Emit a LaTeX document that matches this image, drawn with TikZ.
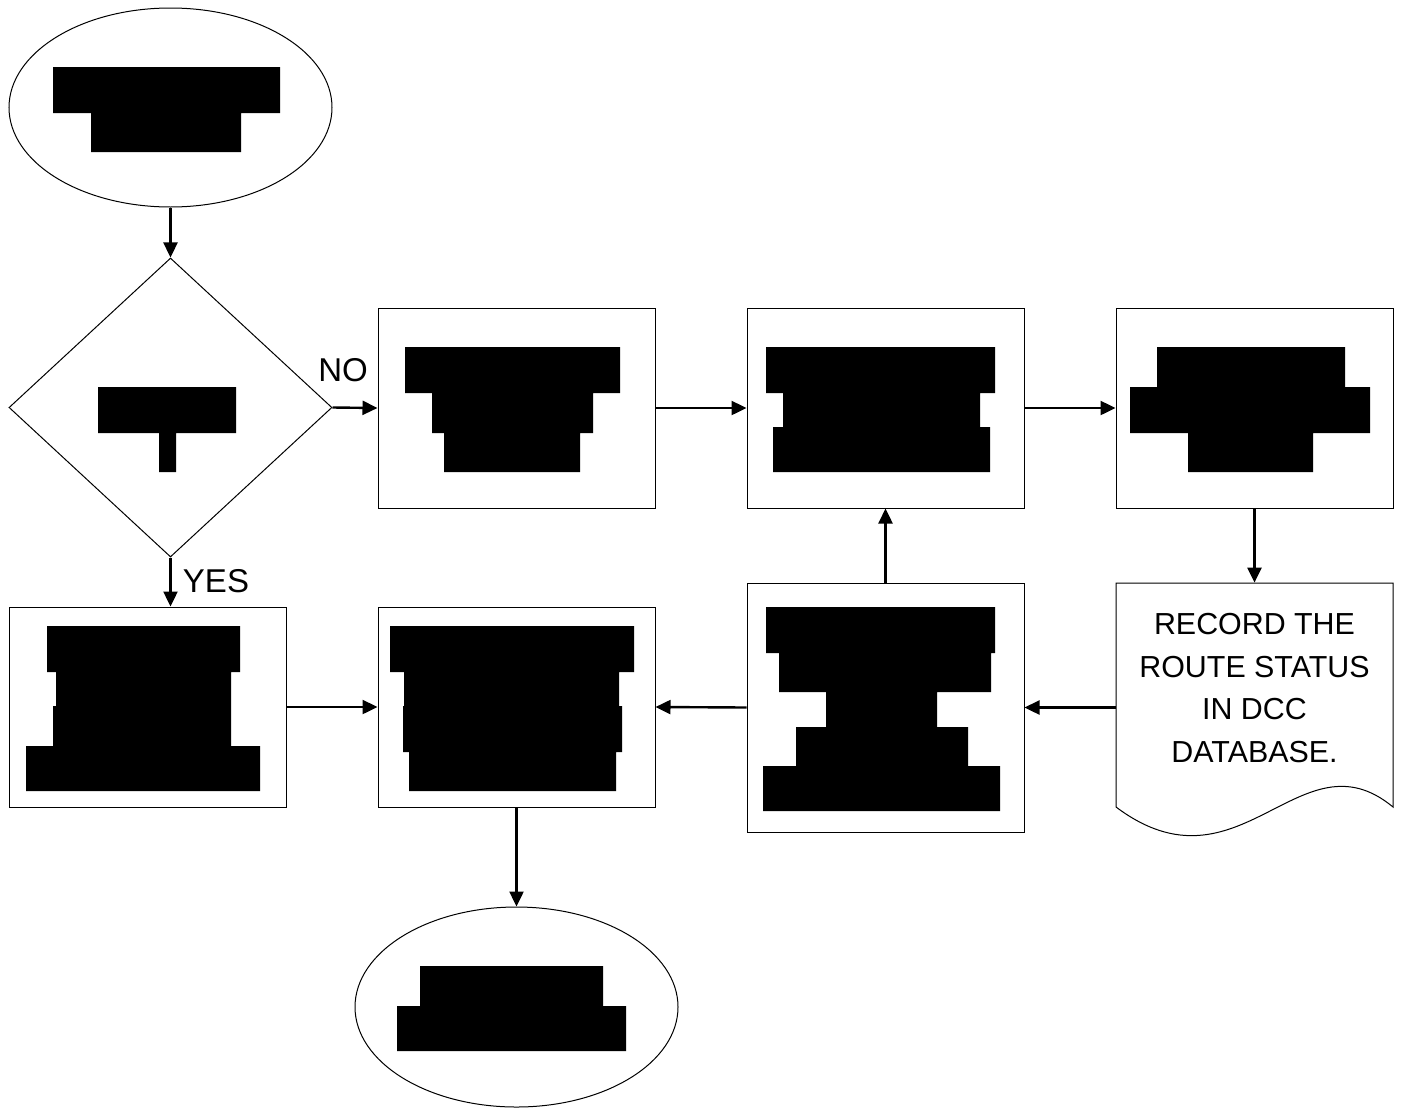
\documentclass[tikz,border=0pt]{standalone}
\usepackage{fontspec}
\setmainfont{Liberation Sans}
\usetikzlibrary{arrows.meta,shapes.geometric}

\begin{document}
\begin{tikzpicture}[x=0.5pt,y=-0.5pt,
    box/.style={draw,line width=0.5pt,minimum width=138.5pt,minimum height=100pt,inner sep=0pt},
    term/.style={draw,ellipse,line width=0.5pt,minimum width=161.5pt,minimum height=99.5pt,inner sep=0pt},
    flow/.style={line width=1.2pt,-{Triangle[length=7.5pt,width=7pt]}},
    lbl/.style={font=\fontsize{16.5pt}{19pt}\selectfont}]
    \useasboundingbox (0,0) rectangle (1406,1108);
    % shapes
    \node[term] (start) at (170.5,107.5) {};
    \node[draw,diamond,line width=0.5pt,minimum width=161.5pt,minimum height=149.5pt,inner sep=0pt] (ask) at (170.5,407.5) {};
    \node[box] (review) at (516.5,408) {};
    \node[box] (update) at (885.5,408) {};
    \node[box] (notify) at (1254.5,408) {};
    \node[box,minimum height=124.5pt] (verify) at (885.5,707.5) {};
    \node[box] (close) at (516.5,707) {};
    \node[box] (repair) at (147.5,707) {};
    \node[term,minimum height=100pt] (finish) at (516.5,1007) {};
    \node[minimum width=138.5pt,minimum height=105pt,inner sep=0pt,align=center,
          font=\fontsize{15.2pt}{21.3pt}\selectfont] (record) at (1254.5,688)
          {RECORD THE\\ROUTE STATUS\\IN DCC\\DATABASE.};
    \draw[line width=0.5pt] (1116,583) -- (1393,583) -- (1393,807)
          .. controls (1300,730) and (1240,900) .. (1116,807) -- cycle;
    % blacked out texts
    \fill[black] (53,67) rectangle (280,113) (91,112) rectangle (241,152);
    \fill[black] (98,387) rectangle (236,433) (159,432) rectangle (176,472);
    \fill[black] (405,347) rectangle (620,393) (432,392) rectangle (593,433) (444,432) rectangle (580,472);
    \fill[black] (766,347) rectangle (995,393) (783,392) rectangle (980,428) (773,427) rectangle (990,472);
    \fill[black] (1157,347) rectangle (1345,388) (1130,387) rectangle (1370,433) (1188,432) rectangle (1313,472);
    \fill[black] (766,607) rectangle (995,653) (779,652) rectangle (991,692) (826,691) rectangle (937,728)
                 (796,727) rectangle (968,767) (763,766) rectangle (1000,811);
    \fill[black] (390,626) rectangle (634,672) (404,671) rectangle (619,707) (403,706) rectangle (622,752)
                 (409,751) rectangle (616,791);
    \fill[black] (47,626) rectangle (240,672) (56,671) rectangle (231,707) (53,706) rectangle (231,747)
                 (26,746) rectangle (260,791);
    \fill[black] (420,966) rectangle (603,1007) (397,1006) rectangle (626,1051);
    % connectors
    \draw[flow] (start) -- (ask);
    \draw[flow] (ask.east) -- (review.west);
    \node[lbl] (no) at (343,370) {NO};
    \draw[flow] (review) -- (update);
    \draw[flow] (update) -- (notify);
    \draw[flow] (notify) -- (record);
    \draw[flow] (record.west |- verify.east) -- (verify.east);
    \draw[flow] (verify) -- (update);
    \draw[flow] (verify.west) -- (close.east);
    \draw[flow] (ask) -- (ask |- repair.north);
    \node[lbl] (yes) at (216,581) {YES};
    \draw[flow] (repair) -- (close);
    \draw[flow] (close) -- (finish);
\end{tikzpicture}
\end{document}
